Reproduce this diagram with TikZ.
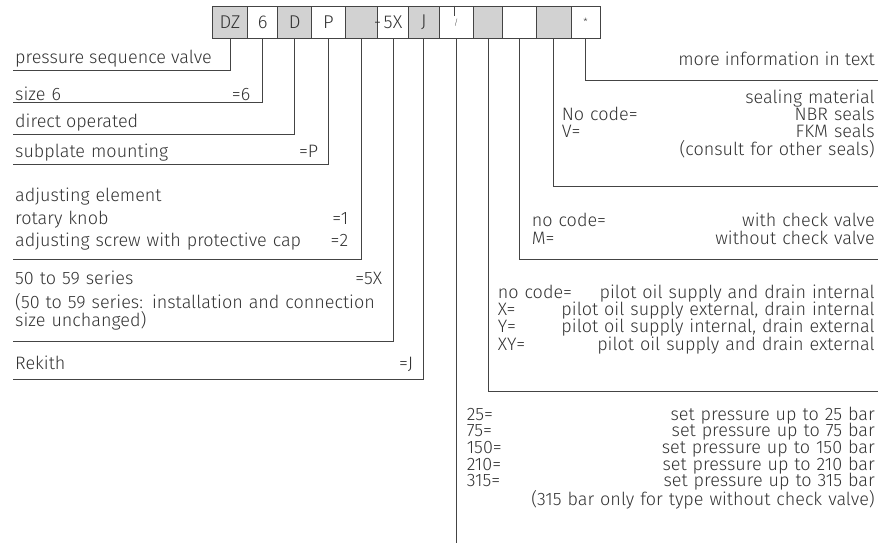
\documentclass[tikz,border=0pt]{standalone}
\usepackage{fontspec}
\setmainfont{Fira Sans Light}
\usepackage{tikz}
\definecolor{boxgray}{HTML}{D2D2D2}
\definecolor{ink}{HTML}{333333}
\definecolor{rulegray}{HTML}{444444}
\newcommand{\lblfont}{\fontsize{18}{17.3}\selectfont}
\newcommand{\hdrfont}{\fontsize{18.5}{18.5}\selectfont}

\begin{document}
\begin{tikzpicture}[x=1pt, y=-1pt, every node/.style={text=ink},
  codebox/.style={draw=rulegray, line width=0.9pt, minimum height=32.3pt, inner sep=0pt, font=\hdrfont},
  graybox/.style={codebox, fill=boxgray},
  lefttext/.style={anchor=base west, inner sep=0pt, align=left, font=\lblfont},
  righttext/.style={anchor=base east, inner sep=0pt, align=right, font=\lblfont},
  link/.style={draw=rulegray, line width=0.9pt}]
\useasboundingbox (0,0) rectangle (878,545);

\node[graybox, minimum width=35.4pt] (bType) at (230,22.2) {DZ};
\node[codebox, minimum width=30pt] (bSize) at (262.7,22.2) {6};
\node[graybox, minimum width=34pt] (bDir) at (294.7,22.2) {D};
\node[codebox, minimum width=33.3pt] (bMount) at (328.3,22.2) {P};
\node[graybox, minimum width=32.7pt] (bAdj) at (361.3,22.2) {};
\node[codebox, minimum width=30.6pt] (bSer) at (393,22.2) {\llap{-\kern2.5pt}5X};
\node[graybox, minimum width=31pt] (bRek) at (423.8,22.2) {J};
\node[codebox, minimum width=34pt] (bPres) at (456.3,22.2) {\fontsize{8}{8}\selectfont /};
\node[graybox, minimum width=29.4pt] (bPilot) at (488,22.2) {};
\node[codebox, minimum width=34pt] (bCheck) at (519.7,22.2) {};
\node[graybox, minimum width=34.3pt] (bSeal) at (553.8,22.2) {};
\node[codebox, minimum width=29pt] (bMore) at (585.5,22.2) {\raisebox{-2pt}{\fontsize{10}{10}\selectfont *}};
\draw[link] ([xshift=-2pt]bPres.north) -- ++(0,10);

\node[lefttext] (tType) at (15,63.3) {pressure sequence valve};
\node[lefttext, text width=235pt] (tSize) at (15,100.7) {size 6\hfill=6};
\node[lefttext] (tDir) at (15,127.5) {direct operated};
\node[lefttext, text width=303pt] (tMount) at (15,157.3) {subplate mounting\hfill=P};
\node[lefttext, text width=333pt] (tAdj) at (15,201.7) {adjusting element\\[5.2pt]
  rotary knob\hfill=1\\[5.2pt]
  adjusting screw with protective cap\hfill=2};
\node[lefttext, text width=367pt] (tSer) at (15,285) {50 to 59 series\hfill=5X\\[6.7pt]
  (50 to 59 series: installation and connection\\[-1.3pt]
  size unchanged)};
\node[lefttext, text width=398pt] (tRek) at (15,369.3) {Rekith\hfill=J};

\node[righttext] (tMore) at (875,66) {more information in text};
\node[righttext, text width=313pt] (tSeal) at (875,103.3) {sealing material\\
  No code=\hfill NBR seals\\
  V=\hfill FKM seals\\
  (consult for other seals)};
\node[righttext, text width=343pt] (tCheck) at (875,226.7) {no code=\hfill with check valve\\[1pt]
  M=\hfill without check valve};
\node[righttext, text width=377pt] (tPilot) at (875,298.3) {no code=\hfill pilot oil supply and drain internal\\
  X=\hfill pilot oil supply external, drain internal\\
  Y=\hfill pilot oil supply internal, drain external\\
  XY=\hfill pilot oil supply and drain external};
\node[righttext, text width=408pt] (tPres) at (875,420) {25=\hfill set pressure up to 25 bar\\[-0.6pt]
  75=\hfill set pressure up to 75 bar\\[-0.6pt]
  150=\hfill set pressure up to 150 bar\\[-0.6pt]
  210=\hfill set pressure up to 210 bar\\[-0.6pt]
  315=\hfill set pressure up to 315 bar\\[-0.6pt]
  (315 bar only for type without check valve)};

\coordinate (cType) at (13,70);
\coordinate (cSize) at (13,102.7);
\coordinate (cDir) at (13,134.3);
\coordinate (cMount) at (13,164.3);
\coordinate (cAdj) at (13,259.3);
\coordinate (cSer) at (13,341.7);
\coordinate (cRek) at (13,379);
\coordinate (cMore) at (878,80);
\coordinate (cSeal) at (878,186.7);
\coordinate (cCheck) at (878,259.3);
\coordinate (cPilot) at (878,391.7);
\coordinate (cPres) at (458,543);

\draw[link] (bType.south) |- (cType);
\draw[link] (bSize.south) |- (cSize);
\draw[link] (bDir.south) |- (cDir);
\draw[link] (bMount.south) |- (cMount);
\draw[link] (bAdj.south) |- (cAdj);
\draw[link] (bSer.south) |- (cSer);
\draw[link] (bRek.south) |- (cRek);
\draw[link] (bMore.south) |- (cMore);
\draw[link] (bSeal.south) |- (cSeal);
\draw[link] (bCheck.south) |- (cCheck);
\draw[link] (bPilot.south) |- (cPilot);
\draw[link] (bPres.south) -- (bPres.south |- cPres);
\end{tikzpicture}
\end{document}
